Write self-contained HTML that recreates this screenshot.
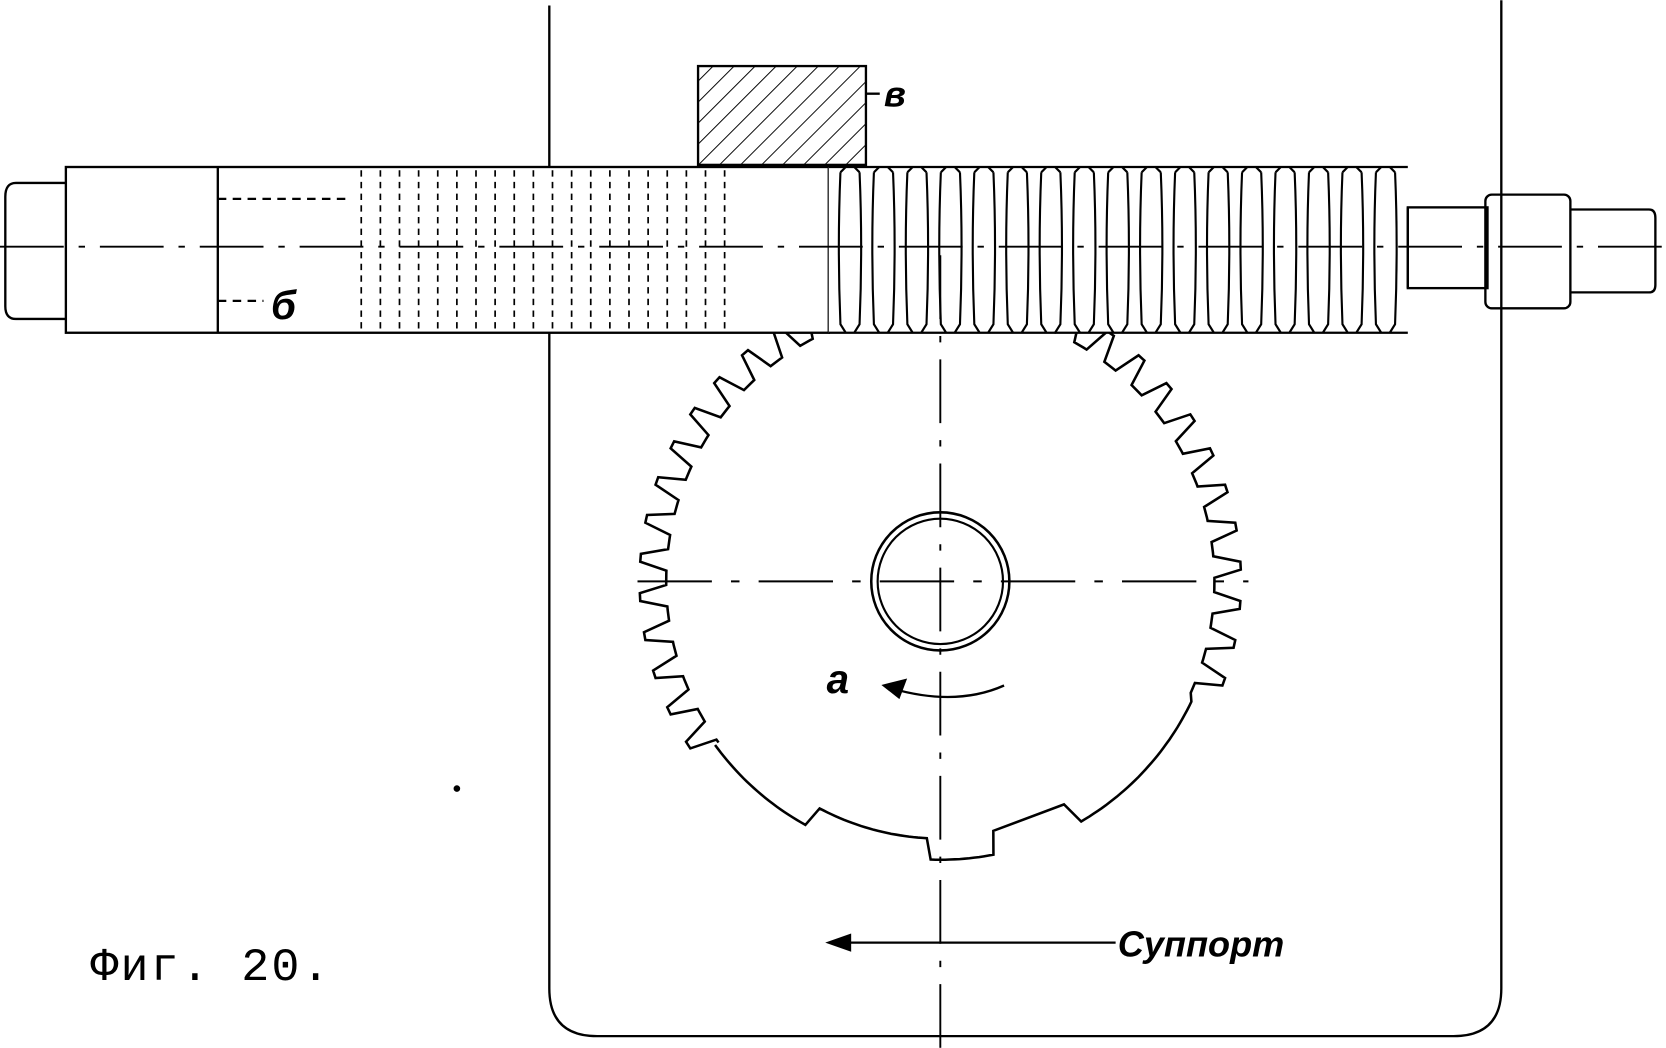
<!DOCTYPE html>
<html><head><meta charset="utf-8"><style>
html,body{margin:0;padding:0;background:#fff;}
svg{display:block}
</style></head><body>
<svg id="s" width="1666" height="1048" viewBox="0 0 1568 986" xmlns="http://www.w3.org/2000/svg" fill="none" stroke="#000" stroke-width="2.2">
<defs>
<pattern id="h" width="14" height="14" patternUnits="userSpaceOnUse" patternTransform="rotate(45)">
<line x1="0" y1="0" x2="0" y2="14" stroke="#000" stroke-width="1.8"/>
</pattern>
</defs>
<path d="M517 5 V930 Q517 975 562 975 H1368 Q1413 975 1413 930 V0"/>
<path id="gear" stroke-width="2.4"/>
<rect x="657" y="62" width="158" height="93" fill="url(#h)"/>
<line x1="815" y1="88" x2="828" y2="88"/>
<text x="832" y="100" font-family="Liberation Sans,sans-serif" font-style="italic" font-weight="bold" font-size="34" fill="#000" stroke="none">в</text>
<path d="M62 172 H15 Q5 172 5 185 V288 Q5 300 15 300 H62"/>
<rect x="62" y="157" width="718" height="156" fill="#fff"/>
<line x1="205" y1="157" x2="205" y2="313"/>
<line x1="205" y1="187" x2="330" y2="187" stroke-dasharray="8 6"/>
<line x1="205" y1="283" x2="248" y2="283" stroke-dasharray="8 6"/>
<text x="255" y="300" font-family="Liberation Sans,sans-serif" font-style="italic" font-weight="bold" font-size="38" fill="#000" stroke="none">б</text>
<g id="dots" stroke-dasharray="6 5" stroke-width="1.6"></g>
<rect x="780" y="157" width="545" height="156" fill="#fff" stroke="none"/>
<g id="worm"></g>
<rect x="1325" y="195" width="75" height="76"/>
<rect x="1398" y="183" width="80" height="107" rx="6"/>
<path d="M1478 197 H1552 Q1558 197 1558 205 V268 Q1558 275 1552 275 H1478"/>
<line x1="0" y1="232" x2="1568" y2="232" stroke-dasharray="60 14 6 14" stroke-width="1.8"/>
<circle cx="885" cy="547" r="65" stroke-width="2.4"/>
<circle cx="885" cy="547" r="59" stroke-width="2"/>
<line x1="600" y1="547" x2="1175" y2="547" stroke-dasharray="70 18 8 18" stroke-width="1.8"/>
<line x1="885" y1="240" x2="885" y2="986" stroke-dasharray="60 16 6 16" stroke-width="1.8"/>
<path d="M945 645 Q900 665 840 648"/>
<path d="M832 645 L852 640 L846 656 Z" fill="#000"/>
<text x="778" y="652" font-family="Liberation Sans,sans-serif" font-style="italic" font-weight="bold" font-size="38" fill="#000" stroke="none">a</text>
<line x1="790" y1="887" x2="1050" y2="887"/>
<path d="M780 887 L800 880 L800 894 Z" fill="#000"/>
<text x="1052" y="900" font-family="Liberation Sans,sans-serif" font-style="italic" font-weight="bold" font-size="34" fill="#000" stroke="none">Суппорт</text>
<text x="85" y="922" font-family="Liberation Mono,monospace" font-size="44" letter-spacing="2" fill="#000" stroke="none">Фиг. 20.</text>
<circle cx="430" cy="742" r="2" fill="#000"/>
</svg>
<script>
var NS="http://www.w3.org/2000/svg";
function el(p,t,at){var e=document.createElementNS(NS,t);for(var k in at)e.setAttribute(k,at[k]);p.appendChild(e);return e;}
var d=document.getElementById('dots');
for(var x=340;x<=690;x+=18){el(d,'line',{x1:x,y1:160,x2:x,y2:310});}
var w=document.getElementById('worm');
el(w,'path',{d:'M780 157 H1325 M780 313 H1325 M1325 195 V271'});
for(var x=800;x<=1315;x+=31.5){
  el(w,'path',{d:'M'+(x-9)+' 162 Q'+(x-12)+' 232 '+(x-9)+' 305 L'+(x-4)+' 313 M'+(x+9)+' 162 Q'+(x+12)+' 232 '+(x+9)+' 305 L'+(x+4)+' 313 M'+(x-9)+' 162 L'+(x-4)+' 157 M'+(x+9)+' 162 L'+(x+4)+' 157','stroke-width':2});
}
var cx=885,cy=547,Ro=283,Ri=258,n=48,step=2*Math.PI/n;
var a0=144*Math.PI/180,a1=385.6*Math.PI/180;
function P(r,ang){return (cx+r*Math.cos(ang)).toFixed(1)+' '+(cy+r*Math.sin(ang)).toFixed(1);}
function D(r,deg){return P(r,deg*Math.PI/180);}
var s='M'+P(Ri,a0);
for(var g=a0;g<a1-step*0.5;g+=step){
  s+=' L'+P(Ri,g+step*0.1)+' L'+P(Ro,g+step*0.3)+' L'+P(Ro,g+step*0.5)+' L'+P(Ri,g+step*0.7)+' L'+P(Ri,g+step);
}
var Rb=262;
function arc(r,d0,d1){for(var t=d0;t<=d1+0.01;t+=1){s+=' L'+D(r,t);}}
arc(Rb,25.6,60); s+=' L'+D(Rb-22,61)+' L'+D(Rb-22,78);
arc(Rb,79,92); s+=' L'+D(Rb-20,93);
arc(Rb-20,93,118); s+=' L'+D(Rb,119);
arc(Rb,119,144);
document.getElementById('gear').setAttribute('d',s);
</script>
</body></html>
